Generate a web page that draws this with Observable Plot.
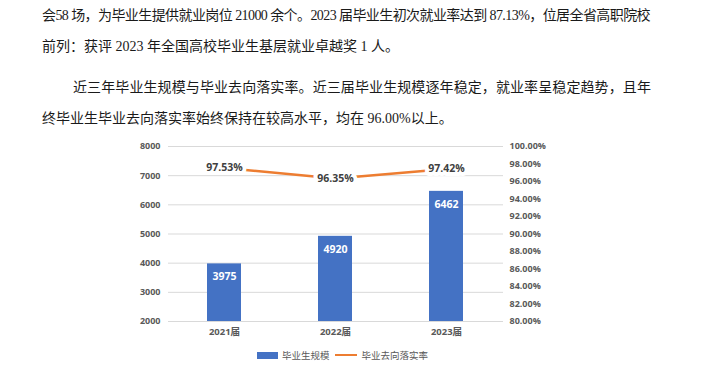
<!DOCTYPE html>
<html><head><meta charset="utf-8">
<script src="https://cdn.jsdelivr.net/npm/d3@7"></script>
<script src="https://cdn.jsdelivr.net/npm/@observablehq/plot@0.6"></script>
<style>
  html,body{margin:0;padding:0;background:#fff;}
  body{width:719px;height:380px;position:relative;overflow:hidden;}
  .ln{position:absolute;left:42px;height:20px;line-height:20px;font-size:14px;color:#1a1a1a;
      font-family:"Liberation Serif","Noto Sans CJK SC",serif;white-space:nowrap;}
  #chart{position:absolute;left:0;top:130px;}
  .legend{position:absolute;top:347px;left:257px;height:16px;display:flex;align-items:center;
      font-family:"Noto Sans CJK SC",sans-serif;font-size:9.5px;color:#595959;}
</style></head>
<body>
<div class="ln fit" data-w="608" style="top:6px;">会58 场，为毕业生提供就业岗位 21000 余个。2023 届毕业生初次就业率达到 87.13%，位居全省高职院校</div>
<div class="ln" style="top:37px;">前列：获评 2023 年全国高校毕业生基层就业卓越奖 1 人。</div>
<div class="ln fit" data-w="578" style="top:78px;left:73px;">近三年毕业生规模与毕业去向落实率。近三届毕业生规模逐年稳定，就业率呈稳定趋势，且年</div>
<div class="ln" style="top:109px;">终毕业生毕业去向落实率始终保持在较高水平，均在 96.00%以上。</div>
<div id="chart"></div>
<div class="legend">
  <span style="display:inline-block;width:21px;height:7px;background:#4472C4;margin-right:4px;"></span>
  <span>毕业生规模</span>
  <span style="display:inline-block;width:22px;height:2.5px;background:#ED7D31;margin:0 5px 0 5px;"></span>
  <span>毕业去向落实率</span>
</div>
<script>
const years = ["2021届", "2022届", "2023届"];
const graduates = [3975, 4920, 6462];
const rates = [97.53, 96.35, 97.42];
const leftTicks = [2000, 3000, 4000, 5000, 6000, 7000, 8000];
const rightTicks = [80, 82, 84, 86, 88, 90, 92, 94, 96, 98, 100];

// fit full paragraph lines to their width (justified look)
document.querySelectorAll(".fit").forEach(el => {
  const target = +el.dataset.w;
  const n = el.textContent.length;
  const natural = el.getBoundingClientRect().width;
  el.style.letterSpacing = ((target - natural) / n) + "px";
});

// map rate (%) onto the left axis domain for the secondary axis
const rateToLeft = r => 2000 + (r - 80) * 300;
const leftToRate = v => (v - 2000) / 300 + 80;

const data = years.map((y, i) => ({year: y, count: graduates[i], rate: rates[i], rateY: rateToLeft(rates[i])}));

const chart = Plot.plot({
  width: 719,
  height: 220,
  marginLeft: 168,
  marginRight: 216,
  marginTop: 16,
  marginBottom: 29,
  style: {fontFamily: "'Open Sans','Noto Sans CJK SC',sans-serif", fontWeight: "bold", background: "transparent"},
  x: {domain: years, paddingInner: 0.69, paddingOuter: 0.345, label: null},
  y: {domain: [2000, 8000], label: null},
  marks: [
    Plot.gridY(leftTicks, {stroke: "#d9d9d9", strokeOpacity: 1, strokeWidth: 1}),
    Plot.axisY(leftTicks, {anchor: "left", tickSize: 0, tickPadding: 8, fill: "#595959", fontSize: 9, label: null, tickFormat: d => String(d)}),
    Plot.axisY(rightTicks.map(rateToLeft), {anchor: "right", tickSize: 0, tickPadding: 6, fill: "#595959", fontSize: 9, label: null,
      tickFormat: d => leftToRate(d).toFixed(2) + "%"}),
    Plot.axisX({tickSize: 0, tickPadding: 7, fill: "#595959", fontSize: 9.5, label: null}),
    Plot.barY(data, {x: "year", y1: 2000, y2: "count", fill: "#4472C4"}),
    Plot.text(data, {x: "year", y: "count", text: d => String(d.count), dy: 13, fill: "white", fontSize: 10.5}),
    Plot.line(data, {x: "year", y: "rateY", stroke: "#ED7D31", strokeWidth: 2.5}),
    Plot.text(data, {x: "year", y: "rateY", text: d => d.rate.toFixed(2) + "%", fill: "#404040", fontSize: 10.5,
      stroke: "white", strokeWidth: 8})
  ]
});
document.getElementById("chart").appendChild(chart);
</script>
</body></html>
